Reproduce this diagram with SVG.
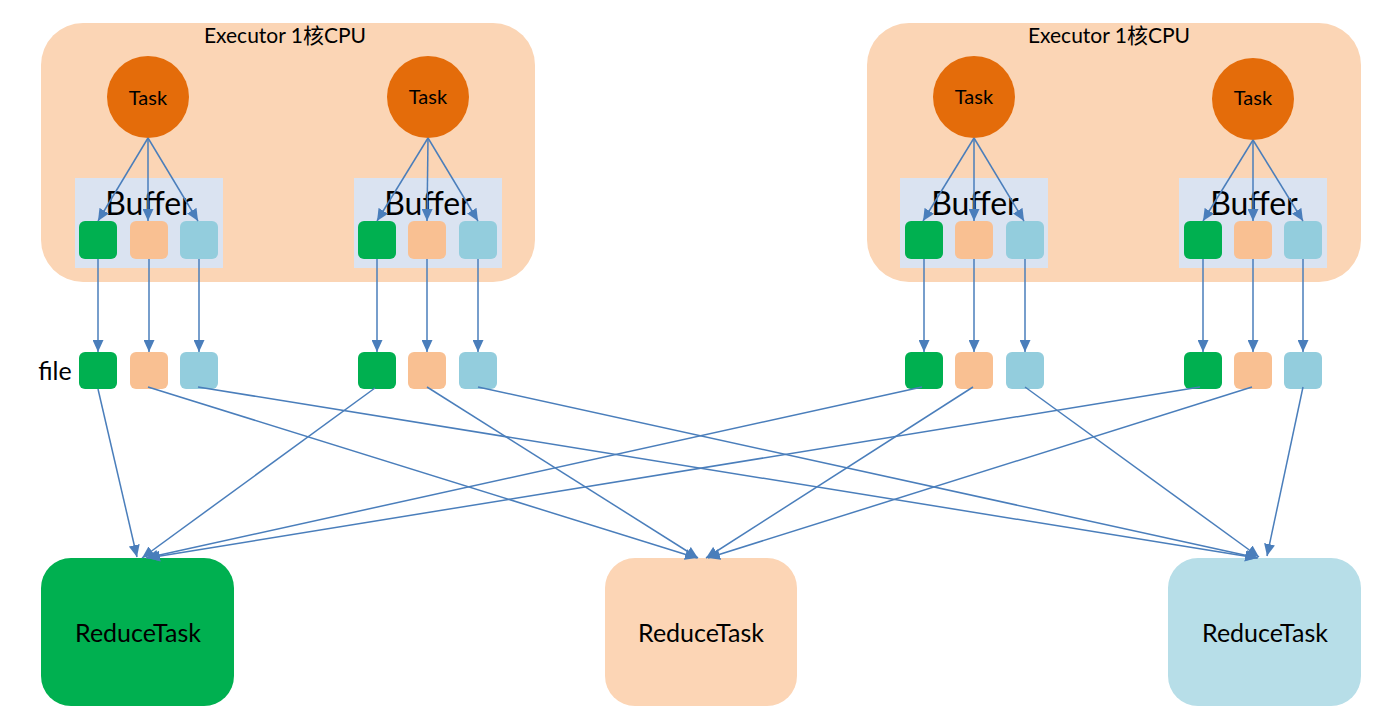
<svg xmlns="http://www.w3.org/2000/svg" width="1400" height="709" viewBox="0 0 1400 709">
<style>
.exec{fill:#FBD5B5;}
.buf{fill:#DAE3F1;}
.task{fill:#E46C0A;}
.g{fill:#00B050;}
.p{fill:#F9C092;}
.b{fill:#93CDDD;}
text{font-family:Lato,"Noto Sans CJK SC",sans-serif;fill:#000;text-anchor:middle;}
.t20{font-size:21px;}
.tk{font-size:20px;}
.t32{font-size:32px;}
.t24{font-size:25px;}
.conn line{stroke:#4A7EBB;stroke-width:1.5;fill:none;marker-end:url(#ah);}
</style>
<defs>
<marker id="ah" markerUnits="userSpaceOnUse" markerWidth="12" markerHeight="11" refX="12" refY="5.5" orient="auto">
<path d="M0,0 L12,5.5 L0,11 z" fill="#4A7EBB"/>
</marker>
</defs>
<rect width="1400" height="709" fill="#fff"/>

<g id="executor1">
<rect class="exec" x="41" y="23" width="494" height="259" rx="42"/>
<text class="t20" x="285" y="43">Executor 1核CPU</text>
</g>
<g id="executor2">
<rect class="exec" x="867" y="23" width="494" height="259" rx="42"/>
<text class="t20" x="1109" y="43">Executor 1核CPU</text>
</g>

<g id="buffer1"><rect class="buf" x="75" y="178" width="148" height="90"/><text class="t32" x="149" y="215">Buffer</text></g>
<g id="buffer2"><rect class="buf" x="354" y="178" width="148" height="90"/><text class="t32" x="428" y="215">Buffer</text></g>
<g id="buffer3"><rect class="buf" x="900" y="178" width="148" height="90"/><text class="t32" x="975" y="215">Buffer</text></g>
<g id="buffer4"><rect class="buf" x="1179" y="178" width="148" height="90"/><text class="t32" x="1254" y="215">Buffer</text></g>

<g id="task1"><circle class="task" cx="148" cy="97" r="41"/><text class="tk" x="148" y="105">Task</text></g>
<g id="task2"><circle class="task" cx="428" cy="97" r="41"/><text class="tk" x="428" y="104">Task</text></g>
<g id="task3"><circle class="task" cx="974" cy="97" r="41"/><text class="tk" x="974" y="104">Task</text></g>
<g id="task4"><circle class="task" cx="1253" cy="99" r="41"/><text class="tk" x="1253" y="105">Task</text></g>

<g id="bufblocks">
<rect class="g" x="79" y="221" width="38" height="38" rx="6"/>
<rect class="p" x="130" y="221" width="38" height="38" rx="6"/>
<rect class="b" x="180" y="221" width="38" height="38" rx="6"/>
<rect class="g" x="358" y="221" width="38" height="38" rx="6"/>
<rect class="p" x="408" y="221" width="38" height="38" rx="6"/>
<rect class="b" x="459" y="221" width="38" height="38" rx="6"/>
<rect class="g" x="905" y="221" width="38" height="38" rx="6"/>
<rect class="p" x="955" y="221" width="38" height="38" rx="6"/>
<rect class="b" x="1006" y="221" width="38" height="38" rx="6"/>
<rect class="g" x="1184" y="221" width="38" height="38" rx="6"/>
<rect class="p" x="1234" y="221" width="38" height="38" rx="6"/>
<rect class="b" x="1284" y="221" width="38" height="38" rx="6"/>
</g>

<g id="files">
<text class="t24" x="55" y="380">file</text>
<rect class="g" x="79" y="352" width="38" height="37" rx="6"/>
<rect class="p" x="130" y="352" width="38" height="37" rx="6"/>
<rect class="b" x="180" y="352" width="38" height="37" rx="6"/>
<rect class="g" x="358" y="352" width="38" height="37" rx="6"/>
<rect class="p" x="408" y="352" width="38" height="37" rx="6"/>
<rect class="b" x="459" y="352" width="38" height="37" rx="6"/>
<rect class="g" x="905" y="352" width="38" height="37" rx="6"/>
<rect class="p" x="955" y="352" width="38" height="37" rx="6"/>
<rect class="b" x="1006" y="352" width="38" height="37" rx="6"/>
<rect class="g" x="1184" y="352" width="38" height="37" rx="6"/>
<rect class="p" x="1234" y="352" width="38" height="37" rx="6"/>
<rect class="b" x="1284" y="352" width="38" height="37" rx="6"/>
</g>

<g id="reduce1"><rect class="g" x="41" y="558" width="193" height="148" rx="30"/><text class="t24" x="138" y="642">ReduceTask</text></g>
<g id="reduce2"><rect x="605" y="558" width="192" height="148" rx="30" fill="#FCD5B5"/><text class="t24" x="701" y="642">ReduceTask</text></g>
<g id="reduce3"><rect x="1168" y="558" width="193" height="148" rx="30" fill="#B7DEE8"/><text class="t24" x="1265" y="642">ReduceTask</text></g>

<g id="connectors" class="conn">
<line x1="148" y1="138" x2="98" y2="221"/>
<line x1="148" y1="138" x2="148" y2="221"/>
<line x1="148" y1="138" x2="198" y2="221"/>
<line x1="428" y1="138" x2="377" y2="221"/>
<line x1="428" y1="138" x2="427" y2="221"/>
<line x1="428" y1="138" x2="478" y2="221"/>
<line x1="974" y1="138" x2="923" y2="221"/>
<line x1="974" y1="138" x2="974" y2="221"/>
<line x1="974" y1="138" x2="1024" y2="221"/>
<line x1="1253" y1="140" x2="1203" y2="221"/>
<line x1="1253" y1="140" x2="1253" y2="221"/>
<line x1="1253" y1="140" x2="1303" y2="221"/>

<line x1="98" y1="259" x2="98" y2="352"/>
<line x1="149" y1="259" x2="149" y2="352"/>
<line x1="199" y1="259" x2="199" y2="352"/>
<line x1="377" y1="259" x2="377" y2="352"/>
<line x1="427" y1="259" x2="427" y2="352"/>
<line x1="478" y1="259" x2="478" y2="352"/>
<line x1="924" y1="259" x2="924" y2="352"/>
<line x1="974" y1="259" x2="974" y2="352"/>
<line x1="1025" y1="259" x2="1025" y2="352"/>
<line x1="1203" y1="259" x2="1203" y2="352"/>
<line x1="1253" y1="259" x2="1253" y2="352"/>
<line x1="1303" y1="259" x2="1303" y2="352"/>

<line x1="98" y1="389" x2="137" y2="557"/>
<line x1="375" y1="388" x2="142" y2="558"/>
<line x1="922" y1="387" x2="146" y2="558"/>
<line x1="1200" y1="387" x2="148" y2="558"/>

<line x1="148" y1="387" x2="697" y2="558"/>
<line x1="427" y1="387" x2="698" y2="558"/>
<line x1="973" y1="387" x2="706" y2="558"/>
<line x1="1252" y1="387" x2="708" y2="558"/>

<line x1="198" y1="387" x2="1257" y2="558"/>
<line x1="478" y1="387" x2="1258" y2="558"/>
<line x1="1025" y1="387" x2="1259" y2="557"/>
<line x1="1303" y1="387" x2="1267" y2="556"/>
</g>
</svg>
